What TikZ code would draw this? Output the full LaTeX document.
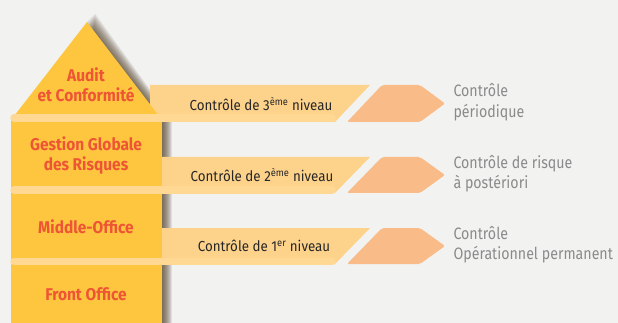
\documentclass[tikz,border=0pt]{standalone}
\usepackage{fontspec}
\setmainfont[FakeStretch=0.91]{Fira Sans}
\newfontfamily\bandfont[FakeStretch=0.92]{Fira Sans}
\newfontfamily\grayfont[FakeStretch=0.86]{Fira Sans}
\definecolor{bg}{HTML}{F2F2F1}
\definecolor{housey}{HTML}{FEC63F}
\definecolor{bandc}{HTML}{FDD28B}
\definecolor{sepc}{HTML}{FFD994}
\definecolor{chev}{HTML}{F9BC88}
\definecolor{redt}{HTML}{EE5535}
\definecolor{grayt}{HTML}{8A8A8A}
\definecolor{shad}{HTML}{4A3820}
\tikzset{
  houselabel/.style={text=redt, font=\bfseries\fontsize{17}{20}\selectfont, align=center},
  bandlabel/.style={text=black!85, font=\bandfont\fontsize{14.5}{17}\selectfont},
  sidelabel/.style={text=grayt, font=\grayfont\fontsize{16.5}{20.5}\selectfont, align=left, anchor=west},
  band/.style={fill=bandc},
  chevron/.style={fill=chev, rounded corners=2pt},
  sepline/.style={draw=sepc, line width=7.5pt, line cap=round},
}
\begin{document}
\begin{tikzpicture}[x=1pt,y=-1pt]
\fill[bg] (0,0) rectangle (618,323);
\useasboundingbox (0,0) rectangle (618,323);
% shadows
\foreach \i in {1,...,10}{
  \fill[shad, opacity=0.1] ([shift={(\i*0.9,-\i*0.85)}]86,22) -- ([shift={(\i*1.0,0)}]162,120) -- (86,120) -- cycle;
}
\foreach \i in {1,...,10}{
  \fill[shad, opacity=0.11] (162,118) rectangle (162+\i,323);
}
% bands
\foreach \yt/\yb in {85/122, 157/193, 228/264}{
  \fill[band] (150,\yt) -- (370,\yt) -- (335,\yb) -- (150,\yb) -- cycle;
  \fill[chevron] (382,\yt) -- (420,\yt) -- (445,{(\yt+\yb)/2}) -- (420,\yb) -- (347,\yb) -- cycle;
}
% house body
\fill[housey] (11,118) rectangle (162,323);
\fill[housey] (87,22) -- (162,120) -- (11,120) -- cycle;
% separators
\draw[sepline] (14,118) -- (332,118);
\draw[sepline] (14,190) -- (332,190);
\draw[sepline] (14,261.5) -- (332,261.5);
% house labels
\node[houselabel] (audit) at (86,85) {Audit\\et Conformité};
\node[houselabel] (ggr) at (86,155) {Gestion Globale\\des Risques};
\node[houselabel] (mo) at (86,227) {Middle-Office};
\node[houselabel] (fo) at (86,294) {Front Office};
% band labels
\node[bandlabel] (b3) at (261,104) {Contrôle de 3\textsuperscript{ème} niveau};
\node[bandlabel] (b2) at (262,175) {Contrôle de 2\textsuperscript{ème} niveau};
\node[bandlabel] (b1) at (264,246) {Contrôle de 1\textsuperscript{er} niveau};
% side labels
\node[sidelabel] (s3) at (450,102) {Contrôle\\périodique};
\node[sidelabel] (s2) at (450,173.5) {Contrôle de risque\\à postériori};
\node[sidelabel] (s1) at (450,244.5) {Contrôle\\Opérationnel permanent};
\end{tikzpicture}
\end{document}
